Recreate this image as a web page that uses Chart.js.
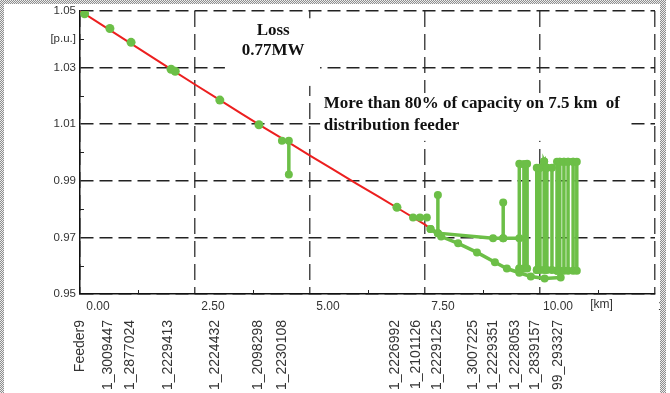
<!DOCTYPE html>
<html>
<head>
<meta charset="utf-8">
<script src="https://cdn.jsdelivr.net/npm/chart.js@4.4.0/dist/chart.umd.min.js"></script>
<style>
  html, body { margin: 0; padding: 0; background: #fff; overflow: hidden; }
  #wrap { position: relative; width: 670px; height: 393px; overflow: hidden; }
  #profile { position: absolute; left: 0; top: 0; }
  .frame {
    position: absolute;
    background-image: repeating-conic-gradient(#8e8e8e 0 25%, #ececec 0 50%);
    background-size: 2px 2px;
  }
</style>
</head>
<body>
<div id="wrap">
  <canvas id="profile" width="700" height="393"></canvas>
  <div class="frame" style="left:0;top:0;width:666px;height:4px"></div>
  <div class="frame" style="left:0;top:0;width:4px;height:393px"></div>
  <div class="frame" style="left:660px;top:0;width:6px;height:393px"></div>
  <div style="position:absolute;left:666px;top:0;width:4px;height:393px;background:#fff"></div>
</div>
<script>
// Voltage profile along Feeder9 (distance in km, voltage in p.u.)
const trunkKm = [0, 0.5, 1.0, 1.5, 2.0, 2.5, 3.0, 3.5, 4.0, 4.5, 5.0, 5.5, 6.0, 6.5, 7.0, 7.5, 7.62];
const trunkPu = [1.050, 1.0448, 1.0396, 1.0344, 1.0292, 1.0240, 1.0189, 1.0138, 1.0088, 1.0039, 0.9989, 0.9940, 0.9891, 0.9843, 0.9794, 0.9745, 0.9730];

// buses sitting on the trunk
const nodeKm = [0.1, 0.65, 1.11, 1.98, 2.07, 3.04, 3.89, 6.89];
const nodePu = [1.049, 1.0438, 1.0389, 1.0294, 1.0287, 1.0185, 1.0098, 0.9806];

// short laterals
const lat1Km = [4.39, 4.54, 4.54];
const lat1Pu = [1.0041, 1.0041, 0.9922];
const lat2Km = [7.24, 7.39, 7.54];
const lat2Pu = [0.977, 0.977, 0.977];
const spur1Km = [7.78, 7.78];
const spur1Pu = [0.9715, 0.985];
const spur2Km = [9.2, 9.2];
const spur2Pu = [0.9697, 0.9823];

// the two branches past 7.5 km
const upperKm = [7.62, 7.78, 8.98, 9.2, 9.55];
const upperPu = [0.9730, 0.9715, 0.9697, 0.9697, 0.9697];
const lowerKm = [7.62, 7.85, 8.22, 8.63, 9.02, 9.28, 9.55, 9.8, 10.1, 10.45];
const lowerPu = [0.9730, 0.9703, 0.9679, 0.9647, 0.9612, 0.9590, 0.9575, 0.9562, 0.9555, 0.9558];

// end-of-feeder load groups: positions, top voltages, common bottom voltage
const grpAKm = [9.55, 9.65, 9.72];
const grpATop = [0.9960, 0.9958, 0.9960];
const grpABottom = 0.9590;
const grpBKm = [9.93, 10.0, 10.09, 10.15, 10.26];
const grpBTop = [0.9946, 0.9946, 0.9968, 0.9946, 0.9946];
const grpBBottom = 0.9585;
const grpCKm = [10.37, 10.43, 10.52, 10.61, 10.72, 10.80];
const grpCTop = [0.9967, 0.9967, 0.9967, 0.9967, 0.9967, 0.9967];
const grpCBottom = 0.9582;

// bus names along the distance axis
const busNames = ['Feeder9', '1_3009447', '1_2877024', '1_2229413', '1_2224432', '1_2098298', '1_2230108',
  '1_2226992', '1_2101126', '1_2229125', '1_3007225', '1_2229351', '1_2228053', '1_2839157', '99_293327'];
const busKm = [0, 0.61, 1.09, 1.91, 2.93, 3.87, 4.39, 6.85, 7.30, 7.76, 8.54, 8.98, 9.46, 9.89, 10.39];

const GREEN = '#6cbf47';
const RED = '#ec1f1f';

function pts(xs, ys) {
  return xs.map((x, i) => ({ x: x, y: ys[i] }));
}

// walk along the tops, dropping down each inner rail and back, then close along the bottom
function railPath(xs, tops, bottom) {
  const out = [{ x: xs[0], y: bottom }];
  xs.forEach((x, i) => {
    out.push({ x: x, y: tops[i] });
    if (i > 0 && i < xs.length - 1) {
      out.push({ x: x, y: bottom });
      out.push({ x: x, y: tops[i] });
    }
  });
  out.push({ x: xs[xs.length - 1], y: bottom });
  out.push({ x: xs[0], y: bottom });
  return out;
}

function greenLine(data) {
  return {
    data: data,
    showLine: true,
    borderColor: GREEN,
    backgroundColor: GREEN,
    borderWidth: 3.5,
    pointRadius: 4,
    pointBorderWidth: 0,
    tension: 0
  };
}

const isMajorY = v => Math.round(v * 100) % 2 === 1;
const isMajorX = v => Math.round(v * 100) % 250 === 0;

const decor = {
  id: 'decor',
  beforeDatasetsDraw(chart) {
    const { ctx, scales: { x, y } } = chart;
    ctx.save();
    // boxes behind the notes
    ctx.fillStyle = '#fff';
    ctx.fillRect(x.getPixelForValue(3.15), y.getPixelForValue(1.0474),
      x.getPixelForValue(5.22) - x.getPixelForValue(3.15), y.getPixelForValue(1.0235) - y.getPixelForValue(1.0474));
    ctx.fillRect(x.getPixelForValue(5.22), y.getPixelForValue(1.021),
      x.getPixelForValue(11.96) - x.getPixelForValue(5.22), y.getPixelForValue(1.0041) - y.getPixelForValue(1.021));

    ctx.fillStyle = '#111';
    ctx.font = 'bold 17px "Liberation Serif", "Times New Roman", serif';
    ctx.textBaseline = 'middle';
    ctx.textAlign = 'center';
    ctx.fillText('Loss', x.getPixelForValue(4.2), y.getPixelForValue(1.0431));
    ctx.fillText('0.77MW', x.getPixelForValue(4.2), y.getPixelForValue(1.0358));
    ctx.textAlign = 'left';
    ctx.fillText('More than 80% of capacity on 7.5 km  of', x.getPixelForValue(5.3), y.getPixelForValue(1.0171));
    ctx.fillText('distribution feeder', x.getPixelForValue(5.3), y.getPixelForValue(1.0094));
    ctx.restore();
  },
  afterDraw(chart) {
    const { ctx, chartArea, scales: { x, y } } = chart;
    ctx.save();
    // inward minor ticks
    ctx.strokeStyle = '#222';
    ctx.lineWidth = 1;
    ctx.beginPath();
    x.ticks.forEach(t => {
      if (isMajorX(t.value)) return;
      const px = Math.round(x.getPixelForValue(t.value)) + 0.5;
      ctx.moveTo(px, chartArea.bottom);
      ctx.lineTo(px, chartArea.bottom - 4);
    });
    y.ticks.forEach(t => {
      if (isMajorY(t.value)) return;
      const py = Math.round(y.getPixelForValue(t.value)) + 0.5;
      ctx.moveTo(chartArea.left, py);
      ctx.lineTo(chartArea.left + 4, py);
    });
    ctx.stroke();

    // distance unit
    ctx.fillStyle = '#333';
    ctx.font = '12px "Liberation Sans", Arial, sans-serif';
    ctx.textAlign = 'center';
    ctx.textBaseline = 'middle';
    ctx.fillText('[km]', x.getPixelForValue(11.25) + 4, chartArea.bottom + 11);

    // bus names, read bottom to top
    ctx.font = '14px "Liberation Sans", Arial, sans-serif';
    ctx.textAlign = 'right';
    busNames.forEach((name, i) => {
      ctx.save();
      ctx.translate(x.getPixelForValue(busKm[i]), chartArea.bottom + 26);
      ctx.rotate(-Math.PI / 2);
      ctx.fillText(name, 0, 0);
      ctx.restore();
    });
    ctx.restore();
  }
};

new Chart(document.getElementById('profile'), {
  type: 'scatter',
  data: {
    datasets: [
      greenLine(railPath(grpAKm, grpATop, grpABottom)),
      greenLine(railPath(grpBKm, grpBTop, grpBBottom)),
      greenLine(railPath(grpCKm, grpCTop, grpCBottom)),
      greenLine(pts(upperKm, upperPu)),
      greenLine(pts(lowerKm, lowerPu)),
      greenLine(pts(spur1Km, spur1Pu)),
      greenLine(pts(spur2Km, spur2Pu)),
      greenLine(pts(lat1Km, lat1Pu)),
      greenLine(pts(lat2Km, lat2Pu)),
      {
        data: pts(nodeKm, nodePu),
        backgroundColor: GREEN,
        borderWidth: 0,
        pointRadius: 4.5
      },
      {
        data: pts(trunkKm, trunkPu),
        showLine: true,
        borderColor: RED,
        borderWidth: 2,
        pointRadius: 0,
        tension: 0
      }
    ]
  },
  options: {
    responsive: false,
    animation: false,
    layout: { padding: { top: 10, right: 45, left: 0, bottom: 0 } },
    plugins: {
      legend: { display: false },
      tooltip: { enabled: false }
    },
    scales: {
      x: {
        type: 'linear',
        min: 0,
        max: 12.5,
        afterFit: s => { s.height = 99; },
        ticks: {
          stepSize: 1.25,
          autoSkip: false,
          maxRotation: 0,
          labelOffset: 18,
          padding: 5,
          color: '#333',
          font: { family: '"Liberation Sans", Arial, sans-serif', size: 12 },
          callback: v => isMajorX(v) ? v.toFixed(2) : ''
        },
        grid: {
          drawTicks: false,
          lineWidth: 1.5,
          color: c => isMajorX(c.tick.value) ? '#4a4a4a' : 'rgba(0,0,0,0)'
        },
        border: { display: true, color: '#111', width: 1.5, dash: [16, 7] }
      },
      y: {
        type: 'linear',
        min: 0.95,
        max: 1.05,
        afterFit: s => { s.width = 80; },
        ticks: {
          stepSize: 0.01,
          autoSkip: false,
          padding: 4,
          color: '#333',
          font: { family: '"Liberation Sans", Arial, sans-serif', size: 11.5 },
          callback: v => {
            const k = Math.round(v * 100);
            if (k === 104) return '[p.u.]';
            return k % 2 === 1 ? (k / 100).toFixed(2) : '';
          }
        },
        grid: {
          drawTicks: false,
          lineWidth: 1.5,
          color: c => isMajorY(c.tick.value) ? '#222' : 'rgba(0,0,0,0)'
        },
        border: { display: true, color: '#111', width: 1.5, dash: [13, 6] }
      }
    }
  },
  plugins: [decor]
});
</script>
</body>
</html>
